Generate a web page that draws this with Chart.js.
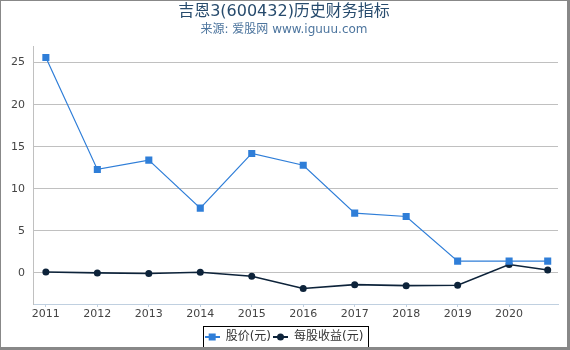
<!DOCTYPE html>
<html>
<head>
<meta charset="utf-8">
<script src="https://cdn.jsdelivr.net/npm/chart.js@4/dist/chart.umd.min.js"></script>
<style>
  html, body { margin: 0; padding: 0; background: #fff; }
  #box {
    position: absolute; left: 0; top: 0;
    width: 570px; height: 350px; box-sizing: border-box;
    border-left: 1px solid #888; border-top: 1px solid #888;
    border-right: 3px solid #888; border-bottom: 3px solid #888;
  }
  #box canvas { display: block; }
</style>
</head>
<body>
<div id="box"><canvas id="myChart" width="566" height="346"></canvas></div>
<script>
// report periods as decimal years (last one = 2020 Q3)
let periods = [2011, 2012, 2013, 2014, 2015, 2016, 2017, 2018, 2019, 2020, 2020.75];
let price = [25.6, 12.3, 13.4, 7.7, 14.2, 12.8, 7.1, 6.7, 1.4, 1.4, 1.4];
let eps = [0.1, 0.0, -0.07, 0.08, -0.4, -1.85, -1.4, -1.52, -1.47, 1.0, 0.35];
let yearTicks = [2011, 2012, 2013, 2014, 2015, 2016, 2017, 2018, 2019, 2020];
let valueTicks = [0, 5, 10, 15, 20, 25];

const blue = "#2f7ed8";
const navy = "#0d233a";
const font = "'DejaVu Sans', 'Noto Sans CJK SC', sans-serif";

function legendIcon(color, shape) {
  let c = document.createElement("canvas");
  c.width = 15;
  c.height = 10;
  let g = c.getContext("2d");
  g.strokeStyle = color;
  g.lineWidth = 2;
  g.beginPath();
  g.moveTo(0, 5);
  g.lineTo(15, 5);
  g.stroke();
  g.fillStyle = color;
  if (shape === "rect") {
    g.fillRect(4, 1.5, 7, 7);
  } else {
    g.beginPath();
    g.arc(7.5, 5, 3.5, 0, Math.PI * 2);
    g.fill();
  }
  return c;
}
let icons = [legendIcon(blue, "rect"), legendIcon(navy, "circle")];

const legendBox = {
  id: "legendBox",
  afterDraw(chart) {
    let boxes = chart.legend.legendHitBoxes;
    if (!boxes || !boxes.length) return;
    let l = Math.min(...boxes.map((b) => b.left)) - 2;
    let r = Math.max(...boxes.map((b) => b.left + b.width)) + 4;
    let t = boxes[0].top - 5;
    let b = boxes[0].top + boxes[0].height + 4;
    let ctx = chart.ctx;
    ctx.save();
    ctx.strokeStyle = "#000";
    ctx.lineWidth = 1;
    ctx.strokeRect(Math.round(l) + 0.5, Math.round(t) + 0.5, Math.round(r - l), Math.round(b - t));
    ctx.restore();
  },
};

let ctx = document.getElementById("myChart").getContext("2d");
let myChart = new Chart(ctx, {
  type: "line",
  data: {
    datasets: [
      {
        label: "股价(元)",
        data: periods.map((p, i) => ({ x: p, y: price[i] })),
        borderColor: blue,
        backgroundColor: blue,
        borderWidth: 1.2,
        pointStyle: "rect",
        pointRadius: 5,
        pointBorderWidth: 0,
        fill: false,
      },
      {
        label: "每股收益(元)",
        data: periods.map((p, i) => ({ x: p, y: eps[i] })),
        borderColor: navy,
        backgroundColor: navy,
        borderWidth: 1.6,
        pointStyle: "circle",
        pointRadius: 3.5,
        pointBorderWidth: 0,
        fill: false,
      },
    ],
  },
  options: {
    responsive: false,
    animation: false,
    layout: { padding: { left: 0, right: 0, top: 0, bottom: -6 } },
    plugins: {
      title: {
        display: true,
        text: "吉恩3(600432)历史财务指标",
        color: "#274b6d",
        font: { family: font, size: 16, weight: "normal" },
        padding: { top: 1, bottom: 0 },
      },
      subtitle: {
        display: true,
        text: "来源: 爱股网 www.iguuu.com",
        color: "#4d759e",
        font: { family: font, size: 12, weight: "normal" },
        padding: { top: 1, bottom: 10 },
      },
      legend: {
        position: "bottom",
        labels: {
          usePointStyle: true,
          pointStyleWidth: 15,
          color: "#333",
          font: { family: font, size: 12 },
          padding: 2,
          generateLabels(chart) {
            let items = Chart.defaults.plugins.legend.labels.generateLabels(chart);
            items.forEach((it, i) => (it.pointStyle = icons[i]));
            return items;
          },
        },
      },
      tooltip: { enabled: false },
    },
    scales: {
      x: {
        type: "linear",
        min: 2010.75,
        max: 2020.95,
        afterBuildTicks: (scale) => {
          scale.ticks = yearTicks.map((v) => ({ value: v }));
        },
        afterFit: (scale) => {
          scale.height = 25;
        },
        ticks: {
          color: "#444",
          font: { family: font, size: 11 },
          padding: 1,
          maxRotation: 0,
          callback: (v) => String(v),
        },
        grid: {
          drawOnChartArea: false,
          drawTicks: true,
          tickLength: 3,
          tickColor: "#c0d0e0",
        },
        border: { color: "#c0d0e0", width: 1 },
      },
      y: {
        min: -3.7,
        max: 26.9,
        afterBuildTicks: (scale) => {
          scale.ticks = valueTicks.map((v) => ({ value: v }));
        },
        afterFit: (scale) => {
          scale.width = 32;
        },
        ticks: {
          color: "#444",
          font: { family: font, size: 11 },
          padding: 8,
        },
        grid: {
          color: "#c0c0c0",
          lineWidth: 1,
          drawTicks: false,
        },
        border: { color: "#c0c0c0", width: 1 },
      },
      // empty spacer on the right so the titles stay centred on the full width
      yRight: {
        position: "right",
        display: true,
        afterFit: (scale) => {
          scale.width = 9;
        },
        ticks: { display: false },
        grid: { display: false },
        border: { display: false },
      },
    },
  },
  plugins: [legendBox],
});
</script>
</body>
</html>
